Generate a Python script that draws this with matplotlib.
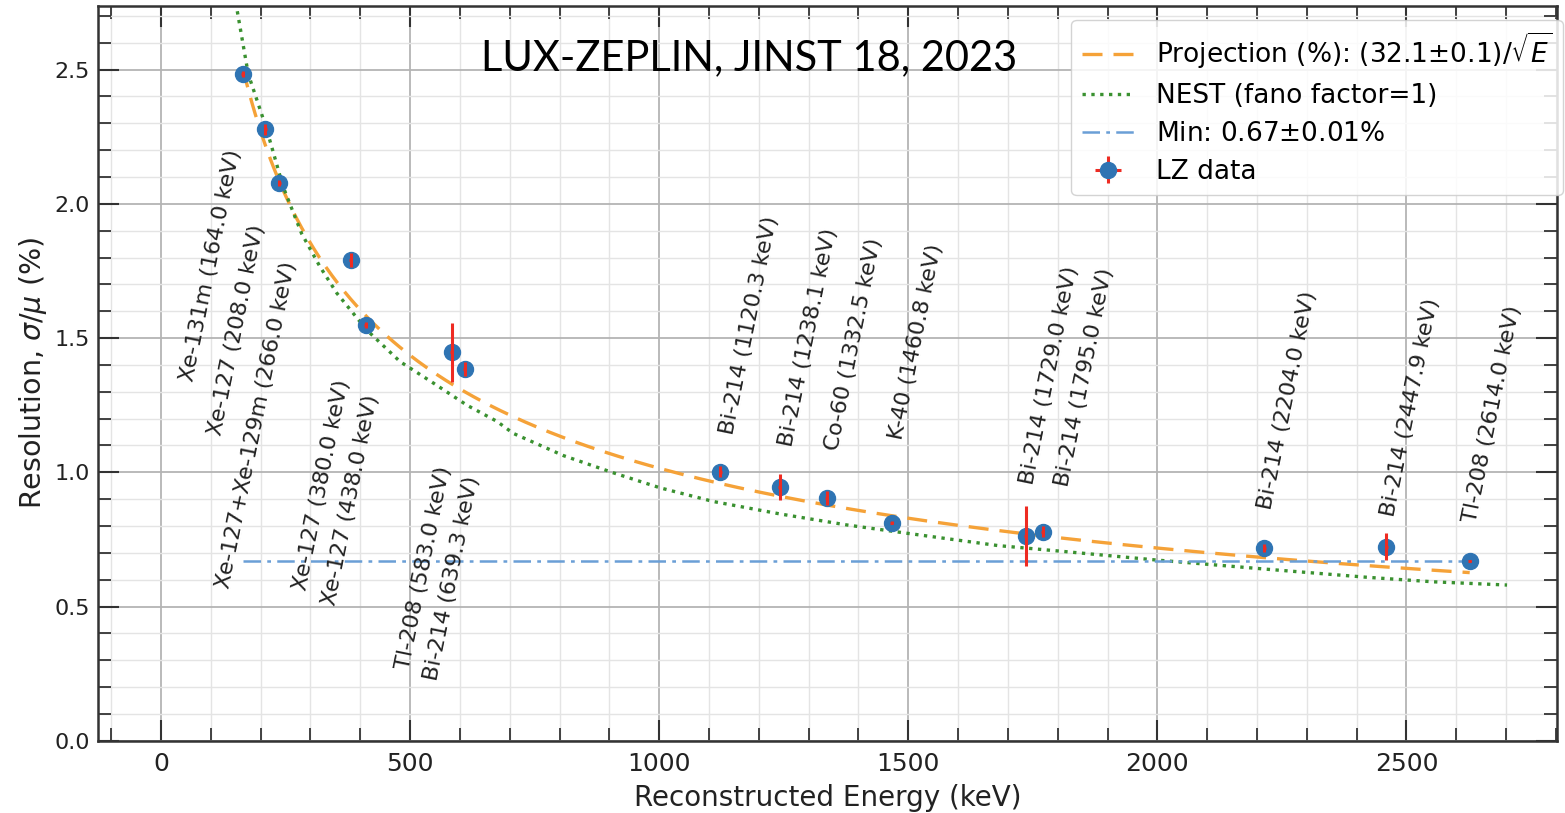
import matplotlib
matplotlib.use("Agg")
import matplotlib.pyplot as plt
import numpy as np
from matplotlib.ticker import MultipleLocator

# LZ calibration peaks: reconstructed energy (keV) and resolution sigma/mu (%)
lz_energy = [164, 209, 237, 381, 411, 584, 610, 1123, 1242, 1336, 1467,
             1736, 1770, 2215, 2460, 2627]
lz_resolution = [2.484, 2.277, 2.078, 1.791, 1.549, 1.448, 1.385, 1.002,
                 0.944, 0.904, 0.812, 0.763, 0.779, 0.719, 0.723, 0.669]
lz_res_err = [0.010, 0.020, 0.010, 0.025, 0.010, 0.110, 0.025, 0.020,
              0.048, 0.025, 0.005, 0.112, 0.020, 0.015, 0.050, 0.005]
lz_energy_err = [3] * len(lz_energy)

# peak labels and where they sit on the axes
peak_labels = [
    "Xe-131m (164.0 keV)", "Xe-127 (208.0 keV)", "Xe-127+Xe-129m (266.0 keV)",
    "Xe-127 (380.0 keV)", "Xe-127 (438.0 keV)", "Tl-208 (583.0 keV)",
    "Bi-214 (639.3 keV)", "Bi-214 (1120.3 keV)", "Bi-214 (1238.1 keV)",
    "Co-60 (1332.5 keV)", "K-40 (1460.8 keV)", "Bi-214 (1729.0 keV)",
    "Bi-214 (1795.0 keV)", "Bi-214 (2204.0 keV)", "Bi-214 (2447.9 keV)",
    "Tl-208 (2614.0 keV)",
]
label_x = [100, 152, 191, 323, 381, 528, 584, 1180, 1299, 1391, 1515,
           1784, 1853, 2260, 2507, 2672]
label_y = [1.772, 1.530, 1.176, 0.953, 0.897, 0.643, 0.606, 1.549, 1.504,
           1.478, 1.485, 1.362, 1.355, 1.269, 1.240, 1.217]

# NEST curve (fano factor = 1)
nest_energy = [150, 175, 212, 245, 282, 319, 353, 413, 480, 547, 614, 674,
               707, 808, 908, 1002, 1109, 1242, 1376, 1497, 1680, 1818, 1999,
               2219, 2420, 2554, 2702]
nest_resolution = [2.75, 2.484, 2.278, 2.064, 1.890, 1.766, 1.667, 1.530,
                   1.412, 1.332, 1.250, 1.190, 1.145, 1.062, 0.998, 0.942,
                   0.891, 0.845, 0.804, 0.773, 0.727, 0.704, 0.673, 0.639,
                   0.609, 0.592, 0.580]

# projection a/sqrt(E) and minimum resolution
proj_coef = 32.1
min_resolution = 0.67

blue = "#2f74b3"
red = "#ee2b22"

fig = plt.figure(figsize=(15.65, 8.13), dpi=100)
ax = fig.add_axes([0.0628, 0.0889, 0.932, 0.9037])

e_grid = np.linspace(min(lz_energy), max(lz_energy), 400)
ax.plot(e_grid, proj_coef / np.sqrt(e_grid), color="#f5a238", lw=2.4,
        dashes=(6, 3.3), label=r"Projection (%): (32.1$\pm$0.1)/$\sqrt{E}$",
        zorder=3)
ax.plot(nest_energy, nest_resolution, color="#3a9130", lw=2.4, ls=":",
        label="NEST (fano factor=1)", zorder=3)
ax.plot([min(lz_energy), max(lz_energy)], [min_resolution] * 2,
        color="#6a9fd6", lw=1.8, dashes=(7, 2.5, 1.5, 2.5),
        label=r"Min: 0.67$\pm$0.01%", zorder=3)
ax.errorbar(lz_energy, lz_resolution, xerr=lz_energy_err, yerr=lz_res_err,
            fmt="o", color=blue, ms=11.5, ecolor=red, elinewidth=2.2,
            barsabove=True, label="LZ data", zorder=4)

for txt, lx, ly in zip(peak_labels, label_x, label_y):
    ax.text(lx, ly, txt, rotation=78.5, ha="center", va="center",
            fontsize=16, color="#222222", zorder=5)

ax.set_xlim(-126, 2802)
ax.set_ylim(0, 2.737)
ax.xaxis.set_major_locator(MultipleLocator(500))
ax.xaxis.set_minor_locator(MultipleLocator(100))
ax.yaxis.set_major_locator(MultipleLocator(0.5))
ax.yaxis.set_minor_locator(MultipleLocator(0.1))
ax.yaxis.set_major_formatter(plt.FormatStrFormatter("%.1f"))

ax.tick_params(which="both", direction="in", top=True, right=True,
               color="#333333")
ax.tick_params(which="major", length=15, width=1.5)
ax.tick_params(which="minor", length=9.5, width=1.3)
ax.tick_params(axis="x", labelsize=18, pad=8, labelcolor="#222222")
ax.tick_params(axis="y", labelsize=16, pad=6, labelcolor="#222222")

ax.grid(which="major", color="#b4b4b4", lw=1.3)
ax.grid(which="minor", color="#e4e4e4", lw=1.0)
ax.set_axisbelow(True)
for sp in ax.spines.values():
    sp.set_color("#333333")
    sp.set_linewidth(1.8)

ax.set_xlabel("Reconstructed Energy (keV)", fontsize=20, color="#222222",
              labelpad=6)
ax.set_ylabel(r"Resolution, $\sigma/\mu$ (%)", fontsize=20.5, color="#222222",
              labelpad=4)

ax.legend(loc="upper right", bbox_to_anchor=(1.004, 0.981), borderaxespad=0,
          fontsize=19, framealpha=0.85, edgecolor="#cccccc",
          labelspacing=0.45)

fig.text(749 / 1565, 1 - 58 / 813, "LUX-ZEPLIN, JINST 18, 2023",
         family="Lato", fontsize=30, ha="center", va="center")

fig.savefig("out.png", dpi=100)
